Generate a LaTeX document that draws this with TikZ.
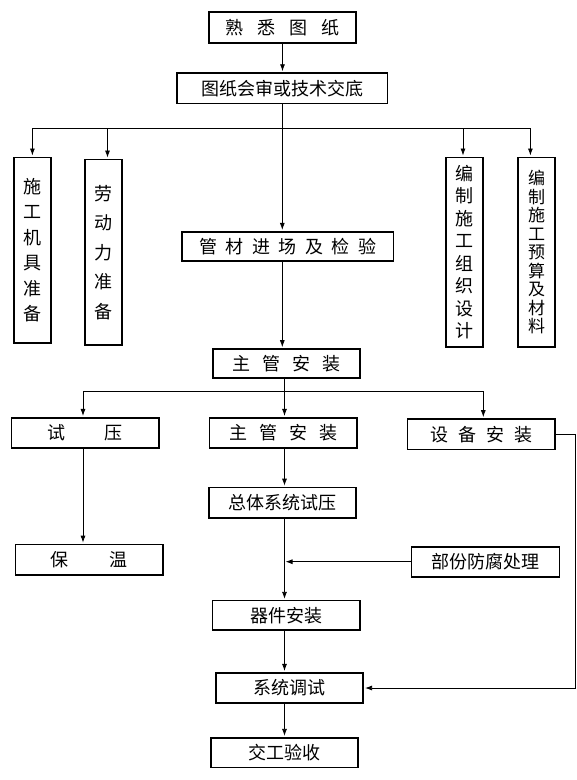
\documentclass[tikz,border=0pt]{standalone}
\usepackage{fontspec}
\newfontfamily\cjk{Noto Sans CJK SC}
\usetikzlibrary{arrows.meta}
\newcommand{\chgap}[1]{\hspace*{#1pt}}
\begin{document}
\begin{tikzpicture}[x=1pt, y=-1pt,
    box/.style={draw, line width=1.6pt, inner sep=0pt, minimum width=147.5, minimum height=30.5,
        font=\cjk\fontsize{18}{22}\selectfont},
    vbox/.style={box, minimum width=37, align=center},
    link/.style={line width=0.8pt},
    arr/.style={link, -{Latex[length=7pt,width=5pt]}, shorten >=1pt}]
    \useasboundingbox (0,0) rectangle (577,780);

    % top of the chain
    \node[box] (shuxi) at (282.5,27.5) {熟\chgap{14}悉\chgap{14}图\chgap{14}纸};
    \node[box, minimum width=210.6] (tuzhi) at (282.3,88.3) {图纸会审或技术交底};

    % the four preparation columns
    \node[vbox, minimum height=185.4, font=\cjk\fontsize{18}{25.5}\selectfont] (jiju) at (32.4,250)
        {施\\工\\机\\具\\准\\备};
    \node[vbox, minimum height=185.7, font=\cjk\fontsize{18}{29.5}\selectfont] (laodong) at (103.3,252.2)
        {劳\\动\\力\\准\\备};
    \node[vbox, minimum height=189.4, font=\cjk\fontsize{18}{22.5}\selectfont] (zuzhi) at (464.7,252)
        {编\\制\\施\\工\\组\\织\\设\\计};
    \node[vbox, minimum height=189.4, font=\cjk\fontsize{17}{18.5}\selectfont] (yusuan) at (536.6,252)
        {编\\制\\施\\工\\预\\算\\及\\材\\料};

    \node[box, minimum width=211.6, minimum height=29.3] (guancai) at (287.6,246.4)
        {管\chgap{8.5}材\chgap{8.5}进\chgap{8.5}场\chgap{8.5}及\chgap{8.5}检\chgap{8.5}验};
    \node[box, minimum height=29] (zhuguan) at (286.5,363.5)
        {主\chgap{12}管\chgap{12}安\chgap{12}装};

    % second row
    \node[box] (shiya) at (85.4,433) {试\chgap{39}压};
    \node[box] (anzhuang) at (283.4,433) {主\chgap{12}管\chgap{12}安\chgap{12}装};
    \node[box] (shebei) at (481.4,434.2) {设\chgap{10}备\chgap{10}安\chgap{10}装};

    \node[box] (zongti) at (282.5,502.7) {总体系统试压};
    \node[box] (baowen) at (89.3,559.7) {保\chgap{41}温};
    \node[box, minimum width=148, minimum height=30] (fangfu) at (485.5,561.7) {部份防腐处理};
    \node[box, minimum height=29.3] (qijian) at (286.3,615.3) {器件安装};
    \node[box] (tiaoshi) at (289.5,688) {系统调试};
    \node[box, minimum height=29.6] (jiaogong) at (284.5,752.5) {交工验收};

    % branch points
    \coordinate (b1) at (32.4,128);
    \coordinate (b2) at (107.5,128);
    \coordinate (b3) at (463,128);
    \coordinate (b4) at (530.4,128);
    \coordinate (c1) at (83,391.3);
    \coordinate (c2) at (284.5,391.3);
    \coordinate (c3) at (483.3,391.3);
    \coordinate (r) at (575,0);

    % connectors
    \draw[arr] (shuxi.south) -- (shuxi.south |- tuzhi.north);
    \draw[arr] (tuzhi.south) -- (tuzhi.south |- guancai.north);
    \draw[link] (b1) -- (b4);
    \draw[arr] (b1) -- (b1 |- jiju.north);
    \draw[arr] (b2) -- (b2 |- laodong.north);
    \draw[arr] (b3) -- (b3 |- zuzhi.north);
    \draw[arr] (b4) -- (b4 |- yusuan.north);
    \draw[arr] (tuzhi.south |- guancai.south) -- (tuzhi.south |- zhuguan.north);

    \draw[link] (c2 |- zhuguan.south) -- (c2);
    \draw[link] (c1) -- (c3);
    \draw[arr] (c1) -- (c1 |- shiya.north);
    \draw[arr] (c2) -- (c2 |- anzhuang.north);
    \draw[arr] (c3) -- (c3 |- shebei.north);

    \draw[arr] (c1 |- shiya.south) -- (c1 |- baowen.north);
    \draw[arr] (c2 |- anzhuang.south) -- (c2 |- zongti.north);
    \draw[arr] (c2 |- zongti.south) -- (c2 |- qijian.north);
    \draw[arr] (fangfu.west) -- (c2 |- fangfu.west);
    \draw[arr] (c2 |- qijian.south) -- (c2 |- tiaoshi.north);
    \draw[arr] (c2 |- tiaoshi.south) -- (c2 |- jiaogong.north);
    \draw[arr] (shebei.east) -- (shebei.east -| r) |- (tiaoshi.east);
\end{tikzpicture}
\end{document}
